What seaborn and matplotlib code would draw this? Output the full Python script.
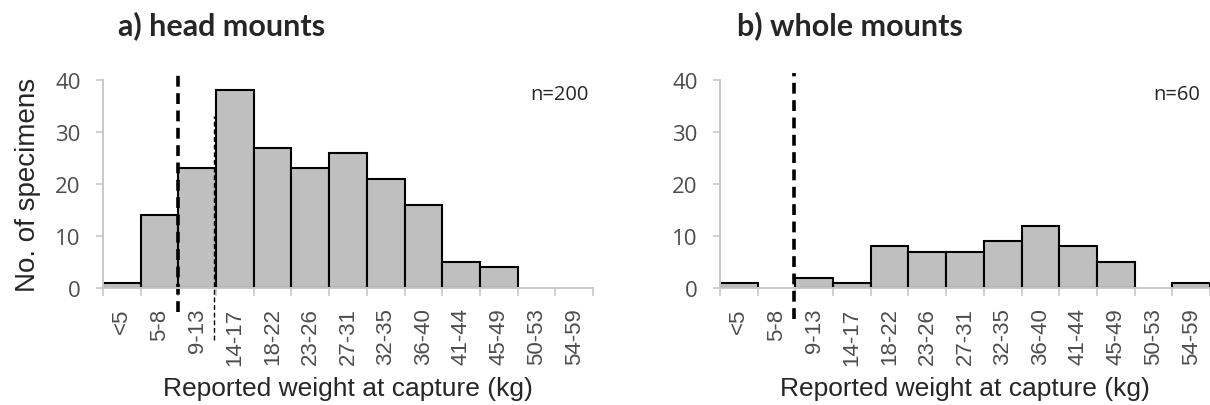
import matplotlib
matplotlib.use("Agg")
import matplotlib.pyplot as plt
import seaborn as sns
import pandas as pd
import numpy as np

categories = ["<5", "5-8", "9-13", "14-17", "18-22", "23-26", "27-31",
              "32-35", "36-40", "41-44", "45-49", "50-53", "54-59"]
head_counts = [1, 14, 23, 38, 27, 23, 26, 21, 16, 5, 4, 0, 0]
whole_counts = [1, 0, 2, 1, 8, 7, 7, 9, 12, 8, 5, 0, 1]
titles = ["a) head mounts", "b) whole mounts"]
n_labels = ["n=200", "n=60"]
yticks = [0, 10, 20, 30, 40]

sns.set_style("white")
plt.rcParams["font.family"] = ["Liberation Sans", "DejaVu Sans"]

W, H = 1210, 406
fig = plt.figure(figsize=(W / 100, H / 100), dpi=100)
ax_a = fig.add_axes([103 / W, (H - 289) / H, 490 / W, 208 / H])
ax_b = fig.add_axes([720 / W, (H - 289) / H, 490 / W, 208 / H])

grey = "#BFBFBF"
spinecol = "#C8C8C8"
tickcol = "#4D4D4D"
calib = ["Open Sans", "DejaVu Sans"]

for ax, counts, nl in [(ax_a, head_counts, n_labels[0]),
                       (ax_b, whole_counts, n_labels[1])]:
    df = pd.DataFrame({"cat": categories, "n": counts})
    sns.barplot(data=df, x="cat", y="n", order=categories, color=grey,
                saturation=1, width=1.0, edgecolor="black", linewidth=1.5, ax=ax)
    for p in ax.patches:
        if p.get_height() == 0:
            p.set_edgecolor("none")
    ax.set_xlim(-0.5, len(categories) - 0.5)
    ax.set_ylim(0, 40)
    ax.set_yticks(yticks)
    ax.set_yticklabels([str(t) for t in yticks], family=calib,
                       fontsize=16, color=tickcol)
    ax.set_xticks(range(len(categories)))
    ax.set_xticklabels(categories, rotation=90, fontsize=16, color=tickcol)
    ax.set_xticks(np.arange(-0.5, len(categories)), minor=True)
    ax.tick_params(axis="x", which="major", length=0, pad=14)
    ax.tick_params(axis="x", which="minor", length=6, width=1.2, color=spinecol, bottom=True)
    ax.tick_params(axis="y", length=5, width=1.2, color=spinecol, left=True, pad=11)
    for s in ["top", "right"]:
        ax.spines[s].set_visible(False)
    for s in ["left", "bottom"]:
        ax.spines[s].set_color(spinecol)
        ax.spines[s].set_linewidth(1.4)
    ax.set_xlabel("Reported weight at capture (kg)", fontsize=19, labelpad=8)
    ax.set_ylabel("")
    ax.text(1.0 - 4 / 490 if nl == "n=200" else 1.0 - 10 / 490, 0.933, nl,
            transform=ax.transAxes, ha="right", va="center",
            fontsize=14.5, family=calib)

fig.text(118 / W, (H - 35) / H, titles[0], fontsize=22, fontweight="bold",
         family=["Lato", "DejaVu Sans"], va="baseline", ha="left")
fig.text(737 / W, (H - 35) / H, titles[1], fontsize=22, fontweight="bold",
         family=["Lato", "DejaVu Sans"], va="baseline", ha="left")

ax_a.set_ylabel("No. of specimens", fontsize=20, labelpad=10)

# threshold lines
ax_a.plot([1.5, 1.5], [-4.6, 41.5], ls=(0, (3, 1.8)), color="black", lw=2.6, clip_on=False)
ax_a.plot([2.45, 2.45], [-10, 33], ls=(0, (3.5, 2)), color="black", lw=1.0, clip_on=False)
ax_b.plot([1.47, 1.47], [-6, 41.3], ls=(0, (3, 1.8)), color="black", lw=2.6, clip_on=False)

fig.savefig("out.png", dpi=100)
